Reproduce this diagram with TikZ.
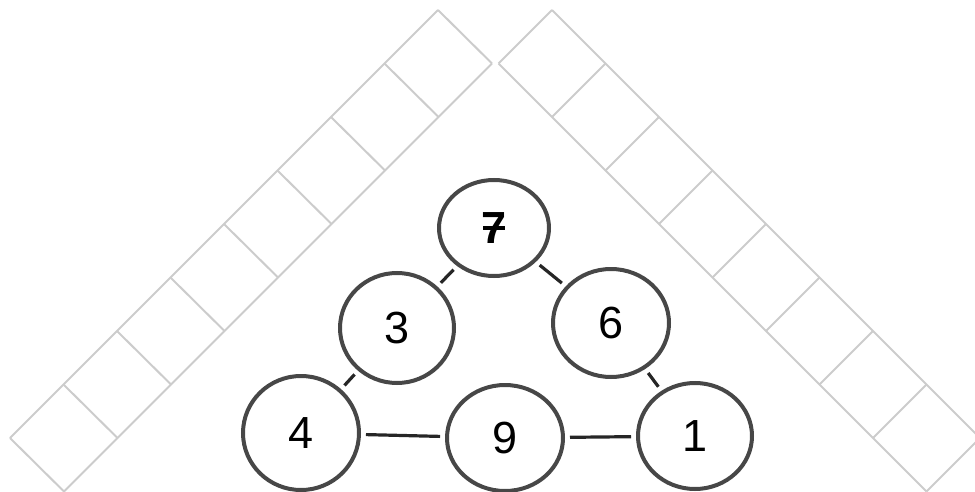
\documentclass[tikz,border=0pt]{standalone}
\usepackage{fontspec}
\setmainfont{Liberation Sans}
\usetikzlibrary{positioning,calc,shapes.geometric}

\tikzset{
  gridline/.style={draw=black!20, line width=2pt},
  numcircle/.style={ellipse, draw=black!72, line width=4pt, inner sep=0pt},
  link/.style={draw=black!85, line width=3.2pt, shorten >=5pt, shorten <=5pt}
}

\begin{document}
\begin{tikzpicture}[x=1pt, y=-1pt, font=\fontsize{45}{45}\selectfont]
\useasboundingbox (0,0) rectangle (975,492);
% Diagonal size of one square
\def\stp{53.5}

% Left strip of squares
\draw[gridline] (438,10) -- (10,438);
\draw[gridline] (492,63.5) -- (64,491.5);
\foreach \i in {0,...,8} {
  \draw[gridline] (438-\stp*\i, 10+\stp*\i) -- (492-\stp*\i, 63.5+\stp*\i);
}

% Right strip of squares
\draw[gridline] (552,10) -- (980,438);
\draw[gridline] (498.5,63.5) -- (926.5,491.5);
\foreach \i in {0,...,8} {
  \draw[gridline] (552+\stp*\i, 10+\stp*\i) -- (498.5+\stp*\i, 63.5+\stp*\i);
}

% Number circles
\node[numcircle, minimum width=110pt, minimum height=96pt] (T) at (494,228) {\textbf{7}};
\node[numcircle, minimum width=114pt, minimum height=110pt] (L) at (397,328) {3};
\node[numcircle, minimum width=116pt, minimum height=108pt] (R) at (611,323) {6};
\node[numcircle, minimum width=116pt, minimum height=114pt] (BL) at (301,433) {4};
\node[numcircle, minimum width=116pt, minimum height=106pt] (BM) at (505,438) {9};
\node[numcircle, minimum width=114pt, minimum height=106pt] (BR) at (695,436) {1};

% Bar through the 7
\draw[line width=3.5pt] ($(T.center)+(-11,0)$) -- ($(T.center)+(11,0)$);

% Edges
\foreach \a/\b in {T/L, T/R, L/BL, R/BR, BL/BM, BM/BR} {
  \draw[link] (\a) -- (\b);
}
\end{tikzpicture}
\end{document}
